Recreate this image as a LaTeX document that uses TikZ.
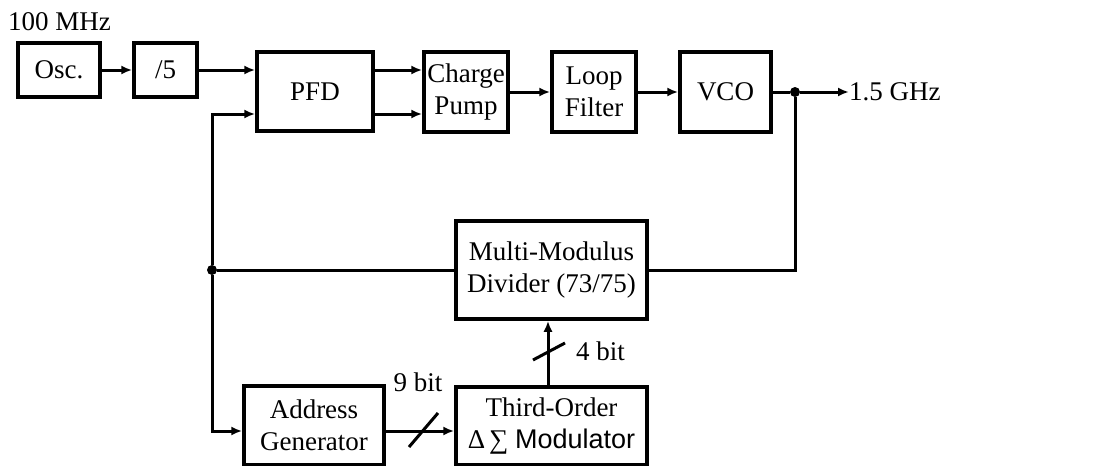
\documentclass[tikz,border=0pt]{standalone}
\usepackage{fontspec}
\setmainfont{Liberation Serif}
\newfontfamily\arialfont{Liberation Sans}
\usetikzlibrary{arrows.meta}
\begin{document}
\begin{tikzpicture}[x=1pt,y=-1pt,
  blk/.style={draw,line width=3.5pt,inner sep=0pt,align=center,font=\fontsize{27}{32}\selectfont},
  wire/.style={line width=3pt},
  arr/.style={line width=3pt,-{Latex[length=11pt,width=9pt]}},
  lbl/.style={inner sep=0pt,font=\fontsize{27}{32}\selectfont},
  dotn/.style={circle,fill,inner sep=0pt,minimum size=10pt}]
\useasboundingbox (0,0) rectangle (1120,466);
\node[blk,minimum width=82pt,minimum height=54pt] (osc) at (59,70) {Osc.};
\node[blk,minimum width=63pt,minimum height=54pt] (div5) at (165.5,70) {/5};
\node[blk,minimum width=116pt,minimum height=79pt] (pfd) at (315,91.5) {PFD};
\node[blk,minimum width=84pt,minimum height=80pt] (cp) at (466,92) {Charge\\Pump};
\node[blk,minimum width=84pt,minimum height=80pt] (lf) at (594,92) {Loop\\Filter};
\node[blk,minimum width=91pt,minimum height=80pt] (vco) at (725.5,92) {VCO};
\node[blk,minimum width=191pt,minimum height=98pt] (mmd) at (551.5,270) {Multi-Modulus\\Divider (73/75)};
\node[blk,minimum width=140pt,minimum height=79pt] (addr) at (314,425.5) {Address\\Generator};
\node[blk,minimum width=191pt,minimum height=78pt] (tom) at (551.5,426) {Third-Order\\Δ\kern4pt∑~{\arialfont Modulator}};
\node[lbl,anchor=west] (in) at (8,22) {100 MHz};
\node[dotn] (d1) at (795,92) {};
\node[dotn] (d2) at (212,270) {};
\coordinate (out) at (849,92);
\node[lbl,anchor=west] (outl) at (out) {1.5 GHz};
\coordinate (c1) at (795,270);
\coordinate (c2) at (212,114);
\coordinate (c3) at (212,431);
\draw[arr] (osc) -- (div5);
\draw[arr] (div5.east |- 0,70) -- (pfd.west |- 0,70);
\draw[arr] (pfd.east |- 0,70) -- (cp.west |- 0,70);
\draw[arr] (pfd.east |- 0,114) -- (cp.west |- 0,114);
\draw[arr] (cp) -- (lf);
\draw[arr] (lf) -- (vco);
\draw[wire] (vco) -- (d1);
\draw[arr] (d1) -- (out);
\draw[wire] (d1) -- (c1) -- (mmd.east |- c1);
\draw[wire] (mmd.west |- d2) -- (d2);
\draw[arr] (d2) -- (c2) -- (pfd.west |- c2);
\draw[arr] (d2) -- (c3) -- (addr.west |- c3);
\draw[arr] (addr.east |- 0,431) -- (tom.west |- 0,431);
\draw[arr] (tom.north -| 548,0) -- (mmd.south -| 548,0);
\draw[wire] (409,447) -- (438,413);
\draw[wire] (533,360) -- (565,343);
\node[lbl] (b9) at (418,382) {9 bit};
\node[lbl,anchor=west] (b4) at (576,351) {4 bit};
\end{tikzpicture}
\end{document}
